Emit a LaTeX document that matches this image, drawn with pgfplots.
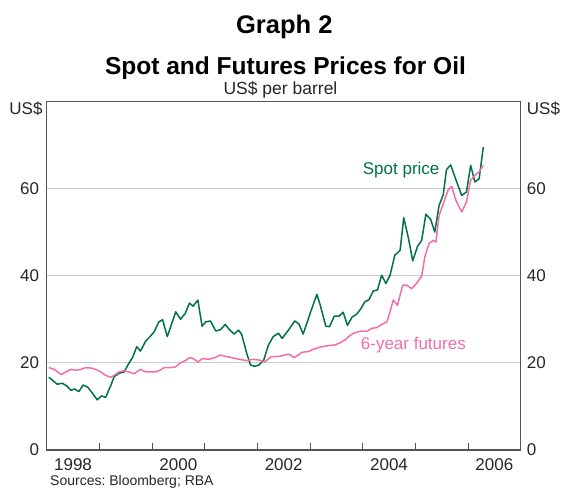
\documentclass[border=0pt]{standalone}
\usepackage{pgfplots}
\pgfplotsset{compat=1.18}
\usepackage{fontspec}
\setmainfont{Liberation Sans}
\frenchspacing
\definecolor{spot}{RGB}{0,112,74}
\definecolor{fut}{RGB}{240,110,170}
\definecolor{axgray}{RGB}{85,85,85}
\definecolor{gridgray}{RGB}{200,204,208}
\begin{document}
\begin{tikzpicture}
\useasboundingbox (0,0) rectangle (562pt,489pt);
\begin{axis}[at={(46.7pt,39pt)}, anchor=south west, scale only axis,
  width=474pt, height=348.7pt,
  xmin=1998, xmax=2007, ymin=0, ymax=80,
  ytick={0,20,40,60}, ymajorgrids, grid style={gridgray, line width=1pt},
  xtick={1998.5,2000.5,2002.5,2004.5,2006.5},
  xticklabels={1998,2000,2002,2004,2006},
  minor xtick={1999,2000,2001,2002,2003,2004,2005,2006},
  major tick length=0pt, minor tick length=7pt, tick align=inside,
  xtick pos=left, ytick pos=left,
  axis line style={axgray, line width=1.2pt},
  tick style={axgray, line width=1pt},
  ticklabel style={font=\fontsize{17}{17}\selectfont, text=black!85},
  /pgf/number format/assume math mode=true,
  yticklabel style={inner sep=0pt, xshift=-7.4pt},
  xticklabel style={inner sep=0pt, yshift=-8.3pt},
]
\addplot[spot, line width=1.5pt, line join=round] coordinates {
(1998.04,16.7) (1998.20,15.1) (1998.30,15.3) (1998.38,14.7) (1998.46,13.7)
(1998.53,14.0) (1998.61,13.4) (1998.69,14.9) (1998.78,14.4) (1998.87,13.0)
(1998.96,11.5) (1999.04,12.4) (1999.12,12.1) (1999.22,14.9) (1999.28,16.8)
(1999.37,17.6) (1999.47,17.9) (1999.56,19.9) (1999.63,21.2) (1999.71,23.7)
(1999.78,22.7) (1999.88,25.0) (1999.96,26.0) (2000.04,27.1) (2000.13,29.4)
(2000.20,29.9) (2000.29,26.0) (2000.45,31.7) (2000.54,30.0) (2000.63,31.3)
(2000.71,33.7) (2000.78,33.0) (2000.87,34.4) (2000.95,28.4) (2001.02,29.4)
(2001.11,29.6) (2001.21,27.3) (2001.30,27.6) (2001.39,28.8) (2001.47,27.6)
(2001.56,26.6) (2001.64,27.5) (2001.70,26.6) (2001.80,22.1) (2001.87,19.5)
(2001.95,19.2) (2002.03,19.5) (2002.12,20.6) (2002.21,24.1) (2002.30,26.0)
(2002.40,26.8) (2002.47,25.6) (2002.59,27.5) (2002.71,29.6) (2002.79,28.9)
(2002.87,26.6) (2003.00,31.3) (2003.13,35.7) (2003.19,33.4) (2003.30,28.4)
(2003.37,28.3) (2003.46,30.7) (2003.55,30.7) (2003.63,31.6) (2003.71,28.6)
(2003.80,30.5) (2003.89,31.2) (2003.97,32.5) (2004.04,34.0) (2004.12,34.5)
(2004.20,36.5) (2004.28,36.7) (2004.36,40.1) (2004.44,38.2) (2004.52,40.1)
(2004.61,44.7) (2004.71,45.8) (2004.78,53.3) (2004.87,48.5) (2004.95,43.4)
(2005.04,46.7) (2005.12,48.1) (2005.20,54.1) (2005.29,52.9) (2005.37,50.0)
(2005.45,56.1) (2005.53,58.6) (2005.59,64.3) (2005.67,65.4) (2005.77,62.0)
(2005.88,58.4) (2005.97,59.2) (2006.05,65.3) (2006.13,61.5) (2006.21,62.2)
(2006.29,69.5)
};
\addplot[fut, line width=1.5pt, line join=round] coordinates {
(1998.04,18.9) (1998.14,18.5) (1998.28,17.3) (1998.36,17.9) (1998.46,18.5)
(1998.55,18.3) (1998.65,18.5) (1998.74,18.9) (1998.84,18.8) (1998.93,18.5)
(1999.03,17.9) (1999.12,17.1) (1999.22,16.7) (1999.29,17.2) (1999.37,17.9)
(1999.47,18.2) (1999.56,17.9) (1999.66,17.5) (1999.78,18.5) (1999.88,17.9)
(1999.97,17.9) (2000.07,17.9) (2000.15,18.3) (2000.23,18.9) (2000.34,18.9)
(2000.44,19.0) (2000.53,19.9) (2000.63,20.5) (2000.71,21.2) (2000.78,21.0)
(2000.87,20.2) (2000.96,21.0) (2001.07,20.8) (2001.20,21.2) (2001.29,21.8)
(2001.39,21.5) (2001.51,21.2) (2001.66,20.8) (2001.80,20.5) (2001.92,20.8)
(2002.05,20.6) (2002.14,20.2) (2002.26,21.4) (2002.43,21.5) (2002.59,22.0)
(2002.65,21.6) (2002.70,21.2) (2002.78,21.8) (2002.84,22.4) (2002.97,22.6)
(2003.08,23.2) (2003.22,23.7) (2003.38,24.0) (2003.47,24.1) (2003.57,24.6)
(2003.66,25.2) (2003.76,26.3) (2003.85,26.9) (2003.97,27.3) (2004.08,27.2)
(2004.17,27.9) (2004.27,28.1) (2004.36,28.8) (2004.46,29.4) (2004.51,31.3)
(2004.58,34.4) (2004.66,33.2) (2004.76,37.8) (2004.84,37.8) (2004.93,37.0)
(2005.02,38.2) (2005.12,39.9) (2005.18,44.3) (2005.26,47.4) (2005.34,48.1)
(2005.39,47.7) (2005.45,53.8) (2005.53,56.5) (2005.62,59.6) (2005.69,60.5)
(2005.77,57.3) (2005.88,54.6) (2005.97,56.9) (2006.05,61.9) (2006.13,63.0)
(2006.21,63.8) (2006.29,65.3)
};
\end{axis}
\begin{axis}[at={(46.7pt,39pt)}, anchor=south west, scale only axis,
  width=474pt, height=348.7pt,
  xmin=1998, xmax=2007, ymin=0, ymax=80,
  hide x axis, axis y line*=right, axis line style={draw=none},
  ytick={0,20,40,60}, major tick length=0pt,
  ticklabel style={font=\fontsize{17}{17}\selectfont, text=black!85},
  /pgf/number format/assume math mode=true,
  yticklabel style={inner sep=0pt, xshift=6pt},
]
\addplot[draw=none] coordinates {(1998,0) (2007,80)};
\end{axis}
\node[anchor=base, inner sep=0pt, font=\bfseries\fontsize{25.5}{25.5}\selectfont] at (284.3pt,455.7pt) {Graph 2};
\node[anchor=base, inner sep=0pt, font=\bfseries\fontsize{24.5}{24.5}\selectfont] at (285.5pt,414pt) {Spot and Futures Prices for Oil};
\node[anchor=base, inner sep=0pt, font=\fontsize{17.5}{17.5}\selectfont, text=black!85] at (280.5pt,394.7pt) {US\$ per barrel};
\node[anchor=base east, inner sep=0pt, font=\fontsize{17}{17}\selectfont, text=black!85] at (42.7pt,374pt) {US\$};
\node[anchor=base west, inner sep=0pt, font=\fontsize{17}{17}\selectfont, text=black!85] at (526.7pt,374pt) {US\$};
\node[anchor=base west, inner sep=0pt, font=\fontsize{17}{17}\selectfont, text=spot] at (362.7pt,314pt) {Spot price};
\node[anchor=base west, inner sep=0pt, font=\fontsize{17}{17}\selectfont, text=fut] at (360.7pt,139pt) {6-year futures};
\node[anchor=base west, inner sep=0pt, font=\fontsize{14}{14}\selectfont, text=black!85] at (50pt,3pt) {Sources: Bloomberg; RBA};
\end{tikzpicture}
\end{document}
